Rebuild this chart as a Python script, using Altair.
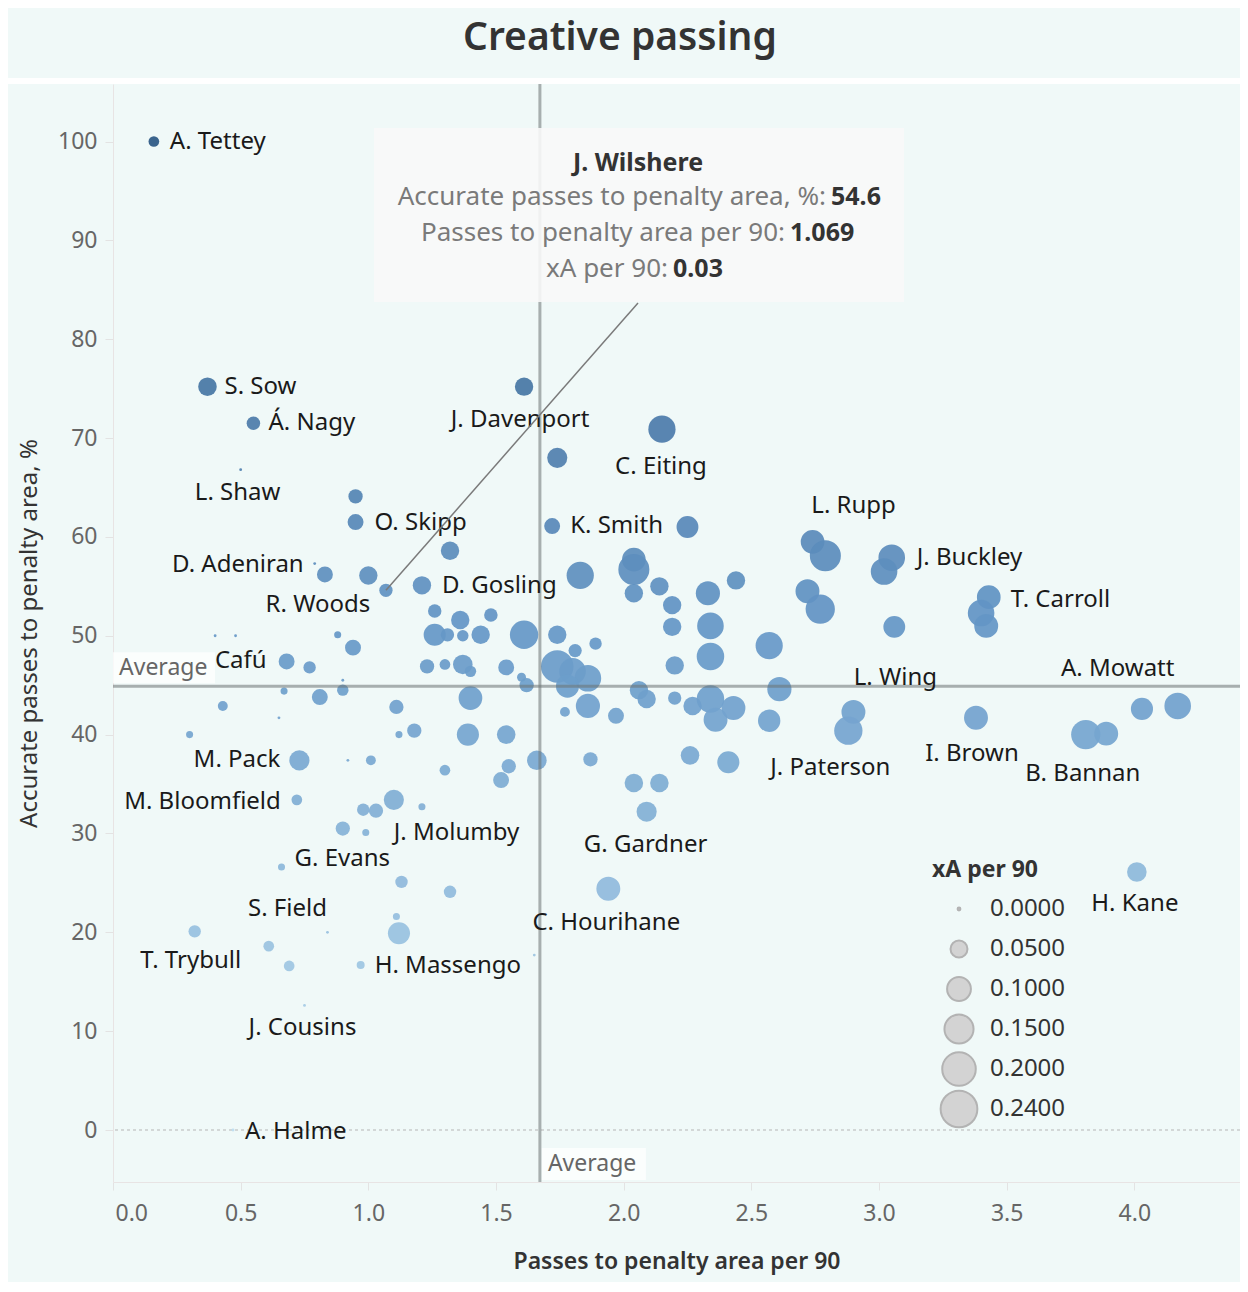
import altair as alt
import pandas as pd

# ---------------- data ----------------
NAMES = [
    "A. Tettey", "S. Sow", "Á. Nagy", "L. Shaw", "J. Davenport", "", "C. Eiting", "", "O. Skipp", "K. Smith",
    "", "", "D. Adeniran", "R. Woods", "", "J. Wilshere", "D. Gosling", "", "", "",
    "", "", "", "", "", "", "", "", "", "",
    "", "Cafú", "", "", "", "", "", "", "", "",
    "", "", "", "", "", "", "", "", "", "",
    "", "", "", "", "M. Pack", "", "", "", "", "",
    "M. Bloomfield", "", "", "", "", "", "J. Molumby", "G. Evans", "", "",
    "", "", "S. Field", "T. Trybull", "", "", "H. Massengo", "", "J. Cousins", "A. Halme",
    "", "", "", "", "", "", "", "L. Rupp", "", "J. Buckley",
    "", "", "", "T. Carroll", "", "", "", "", "", "",
    "", "", "", "", "", "", "", "", "", "",
    "", "", "", "", "", "", "", "", "", "",
    "L. Wing", "J. Paterson", "I. Brown", "B. Bannan", "", "", "A. Mowatt", "", "", "",
    "", "", "G. Gardner", "C. Hourihane", "H. Kane",
]
PASSES_P90 = [
    0.16, 0.37, 0.55, 0.50, 1.61, 1.74, 2.15, 0.95, 0.95, 1.72,
    2.25, 1.32, 0.79, 0.83, 1.00, 1.069, 1.21, 1.83, 1.26, 1.36,
    1.48, 1.26, 1.31, 1.37, 1.44, 1.61, 1.74, 0.40, 0.48, 0.88,
    0.94, 0.68, 0.77, 0.90, 1.23, 1.30, 1.37, 1.40, 1.54, 1.60,
    1.62, 0.67, 0.81, 0.90, 1.11, 1.40, 0.43, 0.65, 0.30, 1.12,
    1.18, 1.39, 1.54, 1.66, 0.73, 0.92, 1.01, 1.30, 1.55, 1.52,
    0.72, 1.10, 0.98, 1.03, 1.21, 0.90, 0.99, 0.66, 1.13, 1.32,
    1.11, 1.12, 0.84, 0.32, 0.61, 0.69, 0.97, 1.65, 0.75, 0.47,
    2.04, 2.04, 2.04, 2.14, 2.19, 2.33, 2.44, 2.74, 2.79, 3.05,
    3.02, 2.72, 2.77, 3.43, 3.40, 3.42, 3.06, 2.19, 2.34, 2.34,
    2.20, 2.57, 1.89, 1.81, 1.74, 1.80, 1.86, 1.78, 2.61, 2.06,
    2.09, 2.20, 2.27, 2.34, 2.43, 2.36, 2.57, 1.86, 1.77, 1.97,
    2.90, 2.88, 3.38, 3.81, 3.89, 4.03, 4.17, 1.87, 2.26, 2.41,
    2.04, 2.14, 2.09, 1.94, 4.01,
]
ACCURATE_PCT = [
    100.0, 75.2, 71.5, 66.8, 75.2, 68.0, 70.9, 64.1, 61.5, 61.1,
    61.0, 58.6, 57.3, 56.2, 56.1, 54.6, 55.1, 56.1, 52.5, 51.6,
    52.1, 50.1, 50.1, 50.0, 50.1, 50.1, 50.1, 50.0, 50.0, 50.1,
    48.8, 47.4, 46.8, 45.5, 46.9, 47.1, 47.1, 46.4, 46.8, 45.8,
    45.0, 44.4, 43.8, 44.5, 42.8, 43.7, 42.9, 41.7, 40.0, 40.0,
    40.4, 40.0, 40.0, 37.4, 37.4, 37.4, 37.4, 36.4, 36.8, 35.4,
    33.4, 33.4, 32.4, 32.3, 32.7, 30.5, 30.1, 26.6, 25.1, 24.1,
    21.6, 19.9, 20.0, 20.1, 18.6, 16.6, 16.7, 17.7, 12.6, 0.0,
    57.7, 56.7, 54.3, 55.0, 53.1, 54.3, 55.6, 59.5, 58.1, 57.9,
    56.5, 54.5, 52.7, 53.9, 52.3, 51.0, 50.9, 50.9, 51.0, 47.9,
    47.0, 49.0, 49.2, 48.5, 46.9, 46.4, 45.7, 44.9, 44.6, 44.5,
    43.6, 43.7, 42.9, 43.6, 42.7, 41.5, 41.4, 42.9, 42.3, 41.9,
    42.3, 40.4, 41.7, 40.0, 40.1, 42.6, 42.9, 37.5, 37.9, 37.2,
    35.1, 35.1, 32.2, 24.4, 26.1,
]
XA_P90 = [
    0.019, 0.060, 0.031, 0.0, 0.059, 0.071, 0.131, 0.035, 0.044, 0.044,
    0.084, 0.059, 0.0, 0.044, 0.059, 0.03, 0.059, 0.131, 0.031, 0.059,
    0.031, 0.086, 0.030, 0.022, 0.059, 0.142, 0.059, 0.0, 0.0, 0.0075,
    0.044, 0.044, 0.026, 0.0, 0.035, 0.019, 0.067, 0.022, 0.044, 0.013,
    0.035, 0.0075, 0.044, 0.022, 0.035, 0.099, 0.016, 0.0, 0.0075, 0.0075,
    0.035, 0.086, 0.060, 0.067, 0.071, 0.0, 0.016, 0.019, 0.035, 0.044,
    0.019, 0.071, 0.026, 0.035, 0.0075, 0.035, 0.0075, 0.0075, 0.026, 0.026,
    0.0075, 0.086, 0.0, 0.026, 0.019, 0.019, 0.010, 0.0, 0.0, 0.0,
    0.099, 0.171, 0.059, 0.059, 0.059, 0.103, 0.059, 0.099, 0.171, 0.125,
    0.125, 0.101, 0.152, 0.099, 0.125, 0.101, 0.084, 0.059, 0.125, 0.134,
    0.059, 0.131, 0.026, 0.030, 0.188, 0.125, 0.125, 0.093, 0.103, 0.059,
    0.059, 0.030, 0.059, 0.134, 0.101, 0.101, 0.088, 0.103, 0.016, 0.044,
    0.101, 0.142, 0.101, 0.152, 0.101, 0.086, 0.125, 0.035, 0.060, 0.086,
    0.060, 0.060, 0.071, 0.101, 0.067,
]

AVG_PASSES = 1.672
AVG_ACCURATE = 44.9

HIGHLIGHT = {"name": "J. Wilshere", "acc": "54.6", "passes": "1.069", "xa": "0.03",
             "x": 1.069, "y": 54.6}

LEGEND_VALUES = [0.0, 0.05, 0.10, 0.15, 0.20, 0.24]

# ---------------- style / placement ----------------
FONT = "Noto Sans"
BG = "#f0f9f8"
W, H = 1127, 1098
X_DOMAIN = [0, 4.414]
Y_DOMAIN = [-5.26, 105.82]
LABEL_SIZE = 24

# label placement: (dx, dy, align) in pixels from the point centre
LABEL_PLACEMENT = {
    "A. Tettey": (16, 0, "left"), "S. Sow": (17, 0, "left"), "Á. Nagy": (15, 0, "left"),
    "L. Shaw": (-3, 23, "center"), "J. Davenport": (-4, 33, "center"), "C. Eiting": (-1, 38, "center"),
    "O. Skipp": (19, 1, "left"), "K. Smith": (18, 0, "left"), "D. Adeniran": (-11, 1, "right"),
    "R. Woods": (-7, 31, "center"), "D. Gosling": (20, 1, "left"), "Cafú": (-20, 0, "right"),
    "L. Rupp": (41, -36, "center"), "J. Buckley": (25, 0, "left"), "T. Carroll": (22, 3, "left"),
    "L. Wing": (42, -34, "center"), "A. Mowatt": (-60, -37, "center"), "J. Paterson": (-18, 37, "center"),
    "I. Brown": (-4, 36, "center"), "B. Bannan": (-3, 39, "center"), "M. Pack": (-19, 0, "right"),
    "M. Bloomfield": (-16, 2, "right"), "J. Molumby": (28, 1, "left"), "G. Evans": (13, -8, "left"),
    "G. Gardner": (-1, 33, "center"), "S. Field": (-40, -23, "center"), "T. Trybull": (-4, 30, "center"),
    "H. Massengo": (14, 1, "left"), "C. Hourihane": (-2, 34, "center"), "J. Cousins": (-2, 23, "center"),
    "A. Halme": (12, 2, "left"), "H. Kane": (-2, 32, "center"),
}

df = pd.DataFrame({"name": NAMES, "x": PASSES_P90, "y": ACCURATE_PCT, "xa": XA_P90})
one = pd.DataFrame({"a": [0]})

xs = alt.Scale(domain=X_DOMAIN, nice=False, zero=False)
ys = alt.Scale(domain=Y_DOMAIN, nice=False, zero=False)
size_scale = alt.Scale(domain=[0, 0.24], range=[8, 1350])

X_TITLE = "Passes to penalty area per 90"
Y_TITLE = "Accurate passes to penalty area, %"

points = alt.Chart(df).mark_circle(opacity=0.92).encode(
    x=alt.X("x:Q", scale=xs, title=X_TITLE,
            axis=alt.Axis(values=[0, 0.5, 1, 1.5, 2, 2.5, 3, 3.5, 4], format=".1f", grid=False,
                          labelFontSize=23, labelColor="#666666", labelFont=FONT,
                          tickColor="#e3e3e3", tickSize=8, domainColor="#e8e4e4",
                          labelPadding=12, labelFlush=True, labelFlushOffset=-2,
                          titleFontSize=23, titleColor="#333333", titleFont=FONT,
                          titleFontWeight=600, titlePadding=25)),
    y=alt.Y("y:Q", scale=ys, title=Y_TITLE,
            axis=alt.Axis(values=list(range(0, 101, 10)), grid=False,
                          labelFontSize=23, labelColor="#666666", labelFont=FONT,
                          tickColor="#e3e3e3", tickSize=8, domainColor="#e8e4e4",
                          labelPadding=8, titleFontSize=24, titleColor="#333333",
                          titleFont=FONT, titleFontWeight="normal", titlePadding=16)),
    size=alt.Size("xa:Q", scale=size_scale, legend=None),
    color=alt.Color("y:Q", scale=alt.Scale(domain=[0, 50, 100],
                                           range=["#bcdcf0", "#6597c7", "#2a5783"]),
                    legend=None),
)

zero_line = alt.Chart(one).mark_rule(color="#b5b5b5", strokeDash=[3, 3], strokeWidth=1).encode(
    y=alt.datum(0))

avg_v = alt.Chart(one).mark_rule(color="#6c7372", opacity=0.55, strokeWidth=3).encode(
    x=alt.datum(AVG_PASSES))
avg_h = alt.Chart(one).mark_rule(color="#6c7372", opacity=0.55, strokeWidth=3).encode(
    y=alt.datum(AVG_ACCURATE))

avg_h_box = alt.Chart(one).mark_rect(fill="#ffffff", opacity=0.75, yOffset=-3, y2Offset=-34).encode(
    x=alt.value(0), x2=alt.value(102), y=alt.datum(AVG_ACCURATE), y2=alt.datum(AVG_ACCURATE))
avg_h_txt = alt.Chart(one).mark_text(text="Average", align="left", baseline="middle", dx=6, dy=-18,
                                     font=FONT, fontSize=23, color="#666666").encode(
    x=alt.value(0), y=alt.datum(AVG_ACCURATE))
avg_v_box = alt.Chart(one).mark_rect(fill="#ffffff", opacity=0.75, xOffset=2, x2Offset=106).encode(
    x=alt.datum(AVG_PASSES), x2=alt.datum(AVG_PASSES), y=alt.value(H - 34), y2=alt.value(H - 2))
avg_v_txt = alt.Chart(one).mark_text(text="Average", align="left", baseline="middle", dx=8,
                                     font=FONT, fontSize=23, color="#666666").encode(
    x=alt.datum(AVG_PASSES), y=alt.value(H - 18))

label_layers = []
for nm, (dx, dy, al) in LABEL_PLACEMENT.items():
    label_layers.append(
        alt.Chart(df).transform_filter(alt.datum.name == nm).mark_text(
            align=al, baseline="middle", dx=dx, dy=dy, font=FONT, fontSize=LABEL_SIZE, color="#1a1a1a"
        ).encode(x=alt.X("x:Q", title=X_TITLE), y=alt.Y("y:Q", title=Y_TITLE), text="name:N")
    )

# hand-placed size legend (uniform row spacing like the reference)
LEG_X, LEG_TOP, LEG_STEP = 846, 825, 40
legend_layers = [
    alt.Chart(one).mark_text(text="xA per 90", align="left", baseline="middle", font=FONT,
                             fontSize=23, fontWeight="bold", color="#333333").encode(
        x=alt.value(819), y=alt.value(786))
]
for i, v in enumerate(LEGEND_VALUES):
    ldf = pd.DataFrame({"xa": [v], "lab": [f"{v:.4f}"]})
    legend_layers.append(
        alt.Chart(ldf).mark_point(shape="circle", filled=True, fill="#d3d3d3", stroke="#b3b3b3",
                                  strokeWidth=2, opacity=1).encode(
            x=alt.value(LEG_X), y=alt.value(LEG_TOP + LEG_STEP * i),
            size=alt.Size("xa:Q", scale=size_scale, legend=None)))
    legend_layers.append(
        alt.Chart(ldf).mark_text(align="left", baseline="middle", font=FONT, fontSize=24,
                                 color="#333333").encode(
            x=alt.value(LEG_X + 31), y=alt.value(LEG_TOP + LEG_STEP * i), text="lab:N"))

# tooltip-style annotation for the highlighted player
leader = alt.Chart(one).mark_rule(color="#7a7a7a", strokeWidth=1.5).encode(
    x=alt.datum(HIGHLIGHT["x"]), y=alt.datum(HIGHLIGHT["y"]), x2=alt.value(525), y2=alt.value(219))
tip_box = alt.Chart(one).mark_rect(fill="#f8f8f8", opacity=0.9).encode(
    x=alt.value(261), x2=alt.value(791), y=alt.value(44), y2=alt.value(218))
tip_name = alt.Chart(one).mark_text(text=HIGHLIGHT["name"], align="center", baseline="middle",
                                    font=FONT, fontSize=25, fontWeight="bold", color="#333333").encode(
    x=alt.value(525), y=alt.value(79))
tip_rows = [
    ("Accurate passes to penalty area, %:", HIGHLIGHT["acc"], 713, 113),
    ("Passes to penalty area per 90:", HIGHLIGHT["passes"], 672, 149),
    ("xA per 90:", HIGHLIGHT["xa"], 555, 185),
]
tip_layers = [tip_box, tip_name]
for lab, val, xr, yy in tip_rows:
    tip_layers.append(alt.Chart(one).mark_text(text=lab, align="right", baseline="middle", font=FONT,
                                               fontSize=26, color="#7a7a7a").encode(
        x=alt.value(xr), y=alt.value(yy)))
    tip_layers.append(alt.Chart(one).mark_text(text=val, align="left", baseline="middle", font=FONT,
                                               fontSize=25, fontWeight="bold", color="#333333").encode(
        x=alt.value(xr + 5), y=alt.value(yy)))

# title band separator + title
stripe = alt.Chart(one).mark_rule(color="#ffffff", strokeWidth=6).encode(
    x=alt.value(-110), x2=alt.value(W + 10), y=alt.value(-3))
title = alt.Chart(one).mark_text(text="Creative passing", align="center", baseline="middle",
                                 font=FONT, fontSize=39, fontWeight=600, color="#333333").encode(
    x=alt.value(507), y=alt.value(-46))

chart = alt.layer(
    zero_line, points, avg_v, avg_h, avg_h_box, avg_h_txt, avg_v_box, avg_v_txt,
    *label_layers, *legend_layers, leader, *tip_layers, stripe, title
).properties(
    width=W, height=H,
    autosize=alt.AutoSizeParams(type="none"),
    padding={"left": 105, "top": 76, "right": 0, "bottom": 100},
    background=BG,
).configure_view(stroke=None)

chart.save("out.html", embed_options={"renderer": "svg", "actions": False})
